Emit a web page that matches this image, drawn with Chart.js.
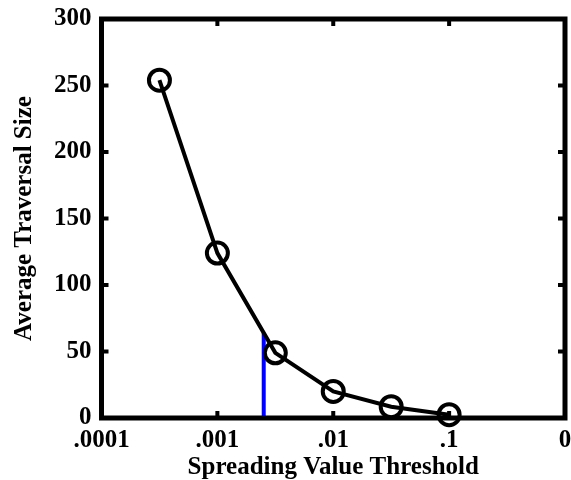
<!DOCTYPE html>
<html>
<head>
<meta charset="utf-8">
<script src="https://cdn.jsdelivr.net/npm/chart.js@4"></script>
<style>
  html, body { margin: 0; padding: 0; background: #fff; }
  #wrap { width: 571px; height: 480px; }
</style>
</head>
<body>
<div id="wrap"><canvas id="traversalChart"></canvas></div>
<script>
// threshold tick labels, one per decade step on the x axis
const thresholdLabels = ['.0001', '.001', '.01', '.1', '0'];
// where each measured threshold sits, in decade steps from .0001
const thresholdSteps = [0.5, 1, 1.5, 2, 2.5, 3];
const avgTraversal = [254, 124, 49, 20, 8.5, 2.5];
// blue cut-off marker
const cutoffStep = [1.4, 1.4];
const cutoffValues = [0, 64];
const yTicks = [0, 50, 100, 150, 200, 250, 300];

const font = 'Liberation Serif, Times New Roman, serif';

// frame with inward ticks, like the matlab figure
const framePlugin = {
    id: 'frame',
    afterDatasetsDraw(chart) {
        const { ctx, chartArea: a, scales } = chart;
        ctx.save();
        ctx.strokeStyle = '#000';
        ctx.lineWidth = 4;
        thresholdLabels.forEach((_, i) => {
            const x = scales.x.getPixelForValue(i);
            ctx.beginPath();
            ctx.moveTo(x, a.bottom); ctx.lineTo(x, a.bottom - 7);
            ctx.moveTo(x, a.top); ctx.lineTo(x, a.top + 7);
            ctx.stroke();
        });
        yTicks.forEach(v => {
            const y = scales.y.getPixelForValue(v);
            ctx.beginPath();
            ctx.moveTo(a.left, y); ctx.lineTo(a.left + 7, y);
            ctx.moveTo(a.right, y); ctx.lineTo(a.right - 7, y);
            ctx.stroke();
        });
        ctx.lineWidth = 5;
        ctx.strokeRect(a.left, a.top, a.right - a.left, a.bottom - a.top);
        ctx.restore();
    }
};

// drop the label overhang so layout padding alone sets the plot edges
const noOverhang = scale => {
    scale.paddingTop = 0;
    scale.paddingBottom = 0;
    scale.paddingLeft = 0;
    scale.paddingRight = 0;
};

document.addEventListener('DOMContentLoaded', () => {
    const ctx = document.getElementById('traversalChart').getContext('2d');
    new Chart(ctx, {
        type: 'line',
        data: {
            datasets: [{
                label: 'Average Traversal Size',
                data: thresholdSteps.map((x, i) => ({ x: x, y: avgTraversal[i] })),
                borderColor: '#000',
                borderWidth: 4,
                pointStyle: 'circle',
                pointRadius: 10.5,
                pointBorderWidth: 4,
                pointBorderColor: '#000',
                pointBackgroundColor: 'rgba(0,0,0,0)',
                clip: false
            }, {
                label: 'Cutoff',
                data: cutoffStep.map((x, i) => ({ x: x, y: cutoffValues[i] })),
                borderColor: '#0000ff',
                borderWidth: 4,
                pointRadius: 0,
                order: 1
            }]
        },
        plugins: [framePlugin],
        options: {
            responsive: true,
            maintainAspectRatio: false,
            animation: false,
            layout: { autoPadding: false, padding: { top: 19, right: 6, left: 10, bottom: -3 } },
            plugins: { legend: { display: false }, tooltip: { enabled: false } },
            scales: {
                x: {
                    type: 'linear',
                    min: 0,
                    max: 4,
                    afterFit: noOverhang,
                    grid: { display: false, drawTicks: false },
                    border: { display: false },
                    ticks: {
                        stepSize: 1,
                        padding: 8,
                        color: '#000',
                        maxRotation: 0,
                        font: { family: font, size: 25, weight: 'bold' },
                        callback: v => thresholdLabels[v]
                    },
                    title: {
                        display: true,
                        text: 'Spreading Value Threshold',
                        color: '#000',
                        padding: { top: -11, bottom: 0 },
                        font: { family: font, size: 25, weight: 'bold' }
                    }
                },
                y: {
                    min: 0,
                    max: 300,
                    afterFit: noOverhang,
                    grid: { display: false, drawTicks: false },
                    border: { display: false },
                    ticks: {
                        stepSize: 50,
                        padding: 10,
                        color: '#000',
                        font: { family: font, size: 25, weight: 'bold' }
                    },
                    title: {
                        display: true,
                        text: 'Average Traversal Size',
                        color: '#000',
                        padding: { top: 0, bottom: 4 },
                        font: { family: font, size: 25, weight: 'bold' }
                    }
                }
            }
        }
    });
});
</script>
</body>
</html>
